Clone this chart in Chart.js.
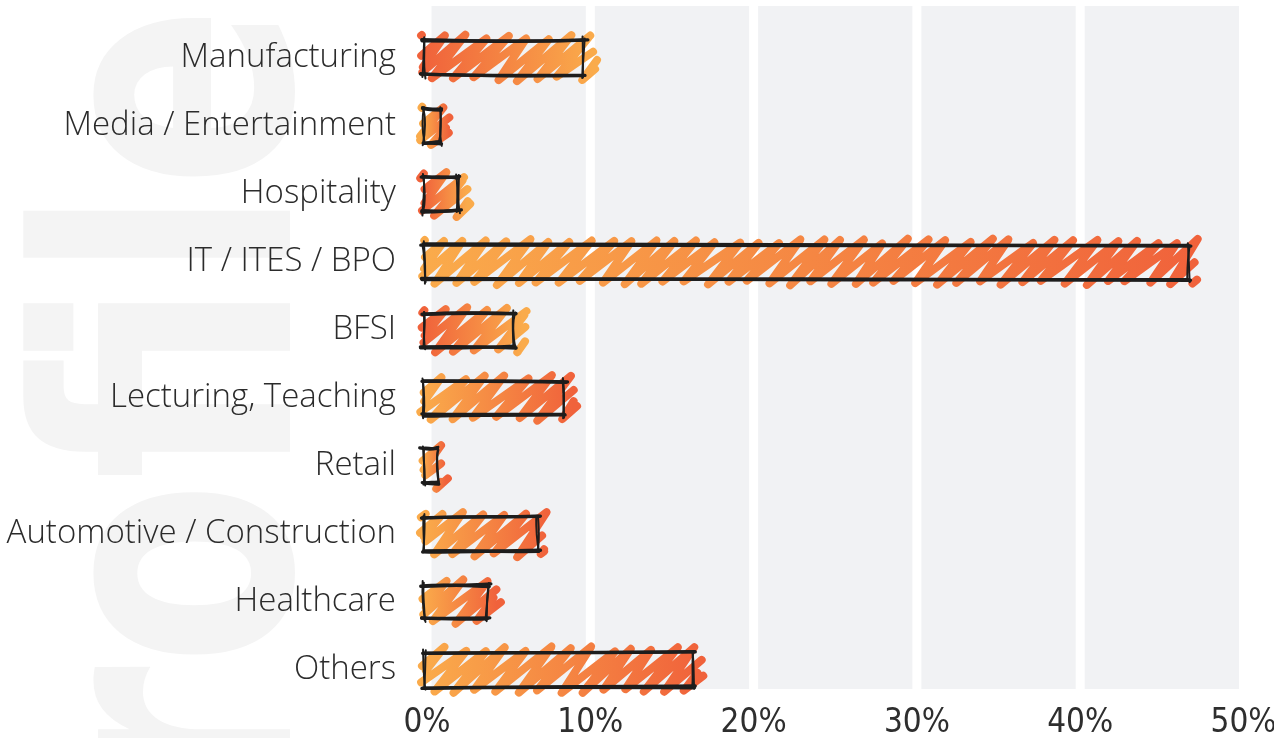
<!DOCTYPE html>
<html>
<head>
<meta charset="utf-8">
<script src="https://cdn.jsdelivr.net/npm/chart.js@4/dist/chart.umd.min.js"></script>
<style>
  html, body { margin: 0; padding: 0; background: #ffffff; }
  #wrap { position: relative; width: 1274px; height: 738px; }
  canvas { display: block; }
</style>
</head>
<body>
<div id="wrap"><canvas id="chart" width="1274" height="738"></canvas></div>
<script>
// ---------------- data ----------------
const categories = [
  'Manufacturing',
  'Media / Entertainment',
  'Hospitality',
  'IT / ITES / BPO',
  'BFSI',
  'Lecturing, Teaching',
  'Retail',
  'Automotive / Construction',
  'Healthcare',
  'Others'
];
const shares = [9.6, 0.8, 1.9, 46.6, 5.3, 8.4, 0.6, 6.8, 3.7, 16.3];
const tickValues = [0, 10, 20, 30, 40, 50];
const tickLabels = ['0%', '10%', '20%', '30%', '40%', '50%'];
const backgroundWord = 'Profile';

// ---------------- style ----------------
const gradientReversed = [true, false, true, false, true, false, false, false, false, false];
const ORANGE = '#faab4b';
const RED = '#f0623b';
const INK = '#1d1d1d';
const PLOT_GRAY = '#f1f2f4';

function mulberry32(a) {
  return function () {
    a |= 0; a = a + 0x6D2B79F5 | 0;
    let t = Math.imul(a ^ a >>> 15, 1 | a);
    t = t + Math.imul(t ^ t >>> 7, 61 | t) ^ t;
    return ((t ^ t >>> 14) >>> 0) / 4294967296;
  };
}

function roughSeg(ctx, x1, y1, x2, y2, rnd, maxOff) {
  const len = Math.hypot(x2 - x1, y2 - y1);
  const off = Math.min(maxOff, len / 12 + 0.4);
  const r = () => (rnd() * 2 - 1) * off;
  const dx = x2 - x1, dy = y2 - y1;
  const d1 = 0.2 + rnd() * 0.2, d2 = 0.6 + rnd() * 0.2;
  ctx.moveTo(x1 + r(), y1 + r());
  ctx.bezierCurveTo(x1 + dx * d1 + r(), y1 + dy * d1 + r(),
                    x1 + dx * d2 + r(), y1 + dy * d2 + r(),
                    x2 + r(), y2 + r());
}

function roughRect(ctx, l, t, r, b, rnd) {
  ctx.save();
  ctx.strokeStyle = INK;
  ctx.lineCap = 'round';
  ctx.lineJoin = 'round';
  const ext = () => 0.5 + rnd() * 2.5;
  ctx.lineWidth = 3.3;
  for (let pass = 0; pass < 2; pass++) {
    ctx.beginPath();
    roughSeg(ctx, l - ext(), t, r + ext(), t, rnd, 1.4);
    roughSeg(ctx, l - ext(), b, r + ext(), b, rnd, 1.4);
    ctx.stroke();
  }
  ctx.lineWidth = 2.0;
  for (let pass = 0; pass < 2; pass++) {
    ctx.beginPath();
    roughSeg(ctx, l, t - ext(), l, b + ext(), rnd, 2.0);
    roughSeg(ctx, r, t - ext(), r, b + ext(), rnd, 2.0);
    ctx.stroke();
  }
  ctx.restore();
}

function clipSegX(p, q, x0, x1) {
  const dx = q[0] - p[0];
  let t0 = 0, t1 = 1;
  if (Math.abs(dx) < 1e-9) {
    if (p[0] < x0 || p[0] > x1) return null;
  } else {
    let ta = (x0 - p[0]) / dx, tb = (x1 - p[0]) / dx;
    if (ta > tb) { const s = ta; ta = tb; tb = s; }
    t0 = Math.max(t0, ta); t1 = Math.min(t1, tb);
    if (t0 >= t1) return null;
  }
  const at = (t) => [p[0] + (q[0] - p[0]) * t, p[1] + (q[1] - p[1]) * t];
  return [at(t0), at(t1)];
}

function zigzagFill(ctx, x0, x1, yTop, yBot, rnd, reversed) {
  const H = yBot - yTop;
  const run = 1.25 * H;
  const step = 21;
  const grad = ctx.createLinearGradient(x0, 0, Math.max(x1, x0 + 1), 0);
  grad.addColorStop(0, reversed ? RED : ORANGE);
  grad.addColorStop(1, reversed ? ORANGE : RED);
  const pts = [];
  const j = (s) => (rnd() * 2 - 1) * s;
  for (let bx = x0 - run - step; bx <= x1 + step; bx += step) {
    pts.push([bx + j(3), yBot + j(2.5)]);
    pts.push([bx + run + j(3), yTop + j(2.5)]);
  }
  ctx.save();
  ctx.strokeStyle = grad;
  ctx.lineWidth = 8;
  ctx.lineCap = 'round';
  ctx.lineJoin = 'round';
  ctx.beginPath();
  let prevEnd = null;
  for (let i = 0; i + 1 < pts.length; i++) {
    const seg = clipSegX(pts[i], pts[i + 1], x0 + j(3), x1 + j(5));
    if (!seg) { prevEnd = null; continue; }
    const [a, b] = seg;
    if (prevEnd && Math.abs(prevEnd[0] - a[0]) < 0.01 && Math.abs(prevEnd[1] - a[1]) < 0.01) {
      ctx.lineTo(b[0], b[1]);
    } else {
      ctx.moveTo(a[0], a[1]);
      ctx.lineTo(b[0], b[1]);
    }
    prevEnd = b;
  }
  ctx.stroke();
  ctx.restore();
}

const sketchPlugin = {
  id: 'sketch',
  beforeDraw(chart) {
    const ctx = chart.ctx;
    ctx.save();
    ctx.fillStyle = '#ffffff';
    ctx.fillRect(0, 0, chart.width, chart.height);
    ctx.translate(290, 5);
    ctx.rotate(-Math.PI / 2);
    ctx.scale(1, 1.17);
    ctx.font = 'bold 300px "Liberation Sans Narrow", "DejaVu Sans Condensed", sans-serif';
    ctx.fillStyle = '#f4f4f4';
    ctx.textAlign = 'right';
    ctx.textBaseline = 'alphabetic';
    ctx.fillText(backgroundWord, 0, 0);
    ctx.restore();
  },
  beforeDatasetsDraw(chart) {
    const ctx = chart.ctx;
    const xs = chart.scales.x;
    const area = chart.chartArea;
    const top = area.top - 18, bottom = area.bottom - 15;
    const left = xs.getPixelForValue(tickValues[0]);
    const right = xs.getPixelForValue(tickValues[tickValues.length - 1]);
    ctx.save();
    ctx.fillStyle = PLOT_GRAY;
    ctx.fillRect(left, top, right - left, bottom - top);
    ctx.fillStyle = '#ffffff';
    tickValues.forEach(v => {
      const px = xs.getPixelForValue(v);
      ctx.fillRect(px - 4.5, top, 9, bottom - top);
    });
    ctx.restore();
  },
  afterDatasetsDraw(chart) {
    const ctx = chart.ctx;
    const meta = chart.getDatasetMeta(0);
    meta.data.forEach((el, i) => {
      const p = el.getProps(['x', 'y', 'base', 'height'], true);
      const rnd = mulberry32(1000 + i * 77);
      const half = p.height / 2;
      const t = p.y - half, b = p.y + half;
      zigzagFill(ctx, p.base - 4, p.x + 9, t - 4, b + 4, rnd, gradientReversed[i]);
      roughRect(ctx, p.base - 3, t, p.x, b, rnd);
    });
  }
};

const PLOT_LEFT = 427, PLOT_RIGHT = 1243.5, PLOT_TOP = 24, PLOT_BOTTOM = 704;

new Chart(document.getElementById('chart'), {
  type: 'bar',
  data: {
    labels: categories,
    datasets: [{
      data: shares,
      backgroundColor: 'rgba(0,0,0,0)',
      borderWidth: 0,
      barThickness: 34
    }]
  },
  options: {
    indexAxis: 'y',
    responsive: false,
    animation: false,
    devicePixelRatio: 1,
    layout: { padding: { left: 0, right: 1274 - PLOT_RIGHT, top: PLOT_TOP, bottom: 0 } },
    plugins: { legend: { display: false }, tooltip: { enabled: false } },
    scales: {
      x: {
        type: 'linear',
        position: 'bottom',
        min: tickValues[0],
        max: tickValues[tickValues.length - 1],
        afterFit(s) { s.height = 738 - PLOT_BOTTOM; s.paddingLeft = 0; s.paddingRight = 0; },
        afterBuildTicks(s) { s.ticks = tickValues.map(v => ({ value: v })); },
        grid: { display: false, drawTicks: false },
        border: { display: false },
        ticks: {
          padding: 0,
          color: '#2e2e2e',
          font: { family: '"Liberation Sans Narrow", "DejaVu Sans Condensed", sans-serif', size: 33 },
          callback: (v) => tickLabels[tickValues.indexOf(v)]
        }
      },
      y: {
        type: 'category',
        afterFit(s) { s.width = PLOT_LEFT; s.paddingTop = 0; s.paddingBottom = 0; },
        grid: { display: false, drawTicks: false },
        border: { display: false },
        ticks: {
          padding: 31,
          color: '#2b2b2b',
          font: { family: '"Open Sans", sans-serif', size: 33, weight: '300' }
        }
      }
    }
  },
  plugins: [sketchPlugin]
});
</script>
</body>
</html>
